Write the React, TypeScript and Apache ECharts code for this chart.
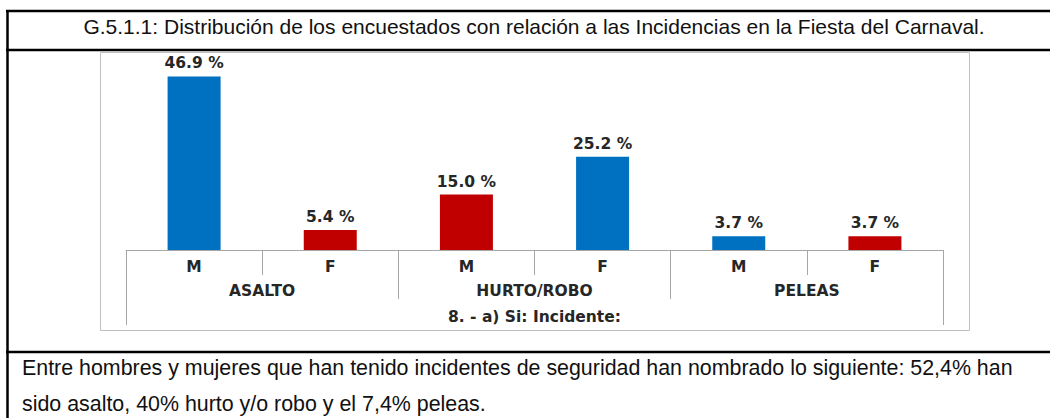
import React, { useEffect, useRef } from "react";
import * as echarts from "echarts";

const titleText =
  "G.5.1.1: Distribución de los encuestados con relación a las Incidencias en la Fiesta del Carnaval.";
const categories = ["M", "F", "M", "F", "M", "F"];
const groups = ["ASALTO", "HURTO/ROBO", "PELEAS"];
const axisTitle = ["8. - a) Si: Incidente:"];
const values = [46.9, 5.4, 15.0, 25.2, 3.7, 3.7];
const barColors = ["#0070C0", "#C00000", "#C00000", "#0070C0", "#0070C0", "#C00000"];
const noteLines = [
  "Entre hombres y mujeres que han tenido incidentes de seguridad han nombrado lo siguiente: 52,4% han",
  "sido asalto, 40% hurto y/o robo y el 7,4% peleas.",
];

const labelFont = "'DejaVu Sans', Verdana, sans-serif";
const textFont = "'Liberation Sans', Arial, sans-serif";
const grey = "#a6a6a6";
const labelColor = "#262626";

export default function App() {
  const ref = useRef<HTMLDivElement>(null);

  useEffect(() => {
    if (!ref.current) return;
    const chart = echarts.init(ref.current, undefined, { renderer: "svg" });

    const axisCommon = (data: string[], tickLen: number, margin: number, showLine: boolean) => ({
      type: "category" as const,
      data,
      position: "bottom" as const,
      boundaryGap: true,
      axisLine: { show: showLine, lineStyle: { color: grey, width: 1 } },
      axisTick: { show: true, length: tickLen, interval: 0, lineStyle: { color: grey, width: 1 } },
      axisLabel: {
        interval: 0,
        margin,
        color: labelColor,
        fontFamily: labelFont,
        fontWeight: "bold" as const,
        fontSize: 15.5,
      },
      splitLine: { show: false },
    });

    chart.setOption({
      animation: false,
      backgroundColor: "#ffffff",
      grid: { left: 126, right: 107, top: 65, bottom: 168, containLabel: false },
      xAxis: [
        axisCommon(categories, 25, 9, true),
        axisCommon(groups, 49, 33, false),
        axisCommon(axisTitle, 75, 59, false),
      ],
      yAxis: { type: "value", min: 0, max: 50, show: false },
      series: [
        {
          type: "bar",
          xAxisIndex: 0,
          barWidth: 53,
          data: values.map((v, i) => ({ value: v, itemStyle: { color: barColors[i] } })),
          label: {
            show: true,
            position: "top",
            distance: 5,
            formatter: (p: any) => `${Number(p.value).toFixed(1)} %`,
            color: labelColor,
            fontFamily: labelFont,
            fontWeight: "bold",
            fontSize: 15.5,
          },
        },
      ],
      graphic: [
        {
          type: "rect",
          shape: { x: 100.5, y: 52.5, width: 869, height: 278 },
          style: { fill: "none", stroke: "#bfbfbf", lineWidth: 1 },
          silent: true,
        },
        {
          type: "line",
          shape: { x1: 7.5, y1: 10, x2: 7.5, y2: 418 },
          style: { stroke: "#000", lineWidth: 2.5 },
          silent: true,
        },
        {
          type: "line",
          shape: { x1: 6, y1: 11, x2: 1050, y2: 11 },
          style: { stroke: "#000", lineWidth: 2.5 },
          silent: true,
        },
        {
          type: "line",
          shape: { x1: 6, y1: 50, x2: 1050, y2: 50 },
          style: { stroke: "#000", lineWidth: 2.5 },
          silent: true,
        },
        {
          type: "line",
          shape: { x1: 6, y1: 352, x2: 1050, y2: 352 },
          style: { stroke: "#000", lineWidth: 2.5 },
          silent: true,
        },
        {
          type: "text",
          x: 534,
          y: 26,
          style: {
            text: titleText,
            fill: "#111",
            font: `21px ${textFont}`,
            align: "center",
            verticalAlign: "middle",
          },
          silent: true,
        },
        ...noteLines.map((t, i) => ({
          type: "text",
          x: 22,
          y: 368 + i * 36,
          style: {
            text: t,
            fill: "#111",
            font: `21.4px ${textFont}`,
            align: "left",
            verticalAlign: "middle",
          },
          silent: true,
        })),
      ],
    });

    return () => chart.dispose();
  }, []);

  return (
    <div
      ref={ref}
      style={{ position: "fixed", left: 0, top: 0, width: 1050, height: 418, background: "#fff" }}
    />
  );
}
